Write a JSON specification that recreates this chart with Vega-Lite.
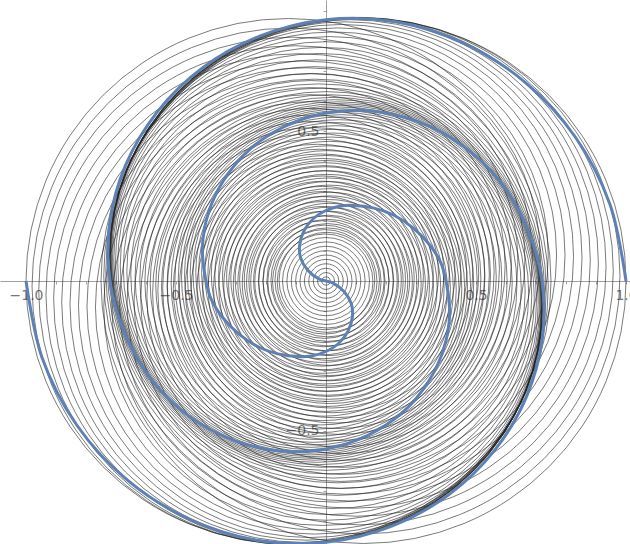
{
  "$schema": "https://vega.github.io/schema/vega-lite/v6.json",
  "width": 630,
  "height": 544,
  "padding": 0,
  "autosize": {"type": "none"},
  "background": "white",
  "config": {"view": {"stroke": null}},
  "datasets": {
    "circles": [
      {"r":0.875,"x":0.125,"y":0},{"r":0.875,"x":-0.125,"y":0},
      {"r":0.8604,"x":0.1195,"y":0.0172},{"r":0.8604,"x":-0.1195,"y":-0.0172},
      {"r":0.8458,"x":0.1118,"y":0.033},{"r":0.8458,"x":-0.1118,"y":-0.033},
      {"r":0.8312,"x":0.1023,"y":0.047},{"r":0.8312,"x":-0.1023,"y":-0.047},
      {"r":0.8166,"x":0.0913,"y":0.059},{"r":0.8166,"x":-0.0913,"y":-0.059},
      {"r":0.802,"x":0.079,"y":0.0689},{"r":0.802,"x":-0.079,"y":-0.0689},
      {"r":0.7874,"x":0.066,"y":0.0766},{"r":0.7874,"x":-0.066,"y":-0.0766},
      {"r":0.7728,"x":0.0523,"y":0.0821},{"r":0.7728,"x":-0.0523,"y":-0.0821},
      {"r":0.7582,"x":0.0385,"y":0.0854},{"r":0.7582,"x":-0.0385,"y":-0.0854},
      {"r":0.7436,"x":0.0249,"y":0.0866},{"r":0.7436,"x":-0.0249,"y":-0.0866},
      {"r":0.729,"x":0.0118,"y":0.0858},{"r":0.729,"x":-0.0118,"y":-0.0858},
      {"r":0.7144,"x":-0.0005,"y":0.0832},{"r":0.7144,"x":0.0005,"y":-0.0832},
      {"r":0.6998,"x":-0.0119,"y":0.0789},{"r":0.6998,"x":0.0119,"y":-0.0789},
      {"r":0.6852,"x":-0.0221,"y":0.0732},{"r":0.6852,"x":0.0221,"y":-0.0732},
      {"r":0.6706,"x":-0.031,"y":0.0664},{"r":0.6706,"x":0.031,"y":-0.0664},
      {"r":0.656,"x":-0.0384,"y":0.0586},{"r":0.656,"x":0.0384,"y":-0.0586},
      {"r":0.6414,"x":-0.0444,"y":0.0503},{"r":0.6414,"x":0.0444,"y":-0.0503},
      {"r":0.6268,"x":-0.0488,"y":0.0414},{"r":0.6268,"x":0.0488,"y":-0.0414},
      {"r":0.6122,"x":-0.0517,"y":0.0325},{"r":0.6122,"x":0.0517,"y":-0.0325},
      {"r":0.5976,"x":-0.0532,"y":0.0236},{"r":0.5976,"x":0.0532,"y":-0.0236},
      {"r":0.583,"x":-0.0533,"y":0.015},{"r":0.583,"x":0.0533,"y":-0.015},
      {"r":0.5684,"x":-0.0522,"y":0.0069},{"r":0.5684,"x":0.0522,"y":-0.0069},
      {"r":0.5538,"x":-0.05,"y":-0.0006},{"r":0.5538,"x":0.05,"y":0.0006},
      {"r":0.5392,"x":-0.0468,"y":-0.0074},{"r":0.5392,"x":0.0468,"y":0.0074},
      {"r":0.5246,"x":-0.0429,"y":-0.0132},{"r":0.5246,"x":0.0429,"y":0.0132},
      {"r":0.51,"x":-0.0383,"y":-0.0182},{"r":0.51,"x":0.0383,"y":0.0182},
      {"r":0.4954,"x":-0.0333,"y":-0.0221},{"r":0.4954,"x":0.0333,"y":0.0221},
      {"r":0.4808,"x":-0.0281,"y":-0.0251},{"r":0.4808,"x":0.0281,"y":0.0251},
      {"r":0.4662,"x":-0.0227,"y":-0.0271},{"r":0.4662,"x":0.0227,"y":0.0271},
      {"r":0.4516,"x":-0.0175,"y":-0.0282},{"r":0.4516,"x":0.0175,"y":0.0282},
      {"r":0.437,"x":-0.0124,"y":-0.0285},{"r":0.437,"x":0.0124,"y":0.0285},
      {"r":0.4224,"x":-0.0077,"y":-0.0281},{"r":0.4224,"x":0.0077,"y":0.0281},
      {"r":0.4078,"x":-0.0034,"y":-0.0269},{"r":0.4078,"x":0.0034,"y":0.0269},
      {"r":0.3932,"x":0.0005,"y":-0.0252},{"r":0.3932,"x":-0.0005,"y":0.0252},
      {"r":0.3786,"x":0.0038,"y":-0.0231},{"r":0.3786,"x":-0.0038,"y":0.0231},
      {"r":0.364,"x":0.0065,"y":-0.0206},{"r":0.364,"x":-0.0065,"y":0.0206},
      {"r":0.3494,"x":0.0086,"y":-0.0179},{"r":0.3494,"x":-0.0086,"y":0.0179},
      {"r":0.3348,"x":0.0102,"y":-0.0152},{"r":0.3348,"x":-0.0102,"y":0.0152},
      {"r":0.3202,"x":0.0112,"y":-0.0124},{"r":0.3202,"x":-0.0112,"y":0.0124},
      {"r":0.3056,"x":0.0117,"y":-0.0097},{"r":0.3056,"x":-0.0117,"y":0.0097},
      {"r":0.291,"x":0.0118,"y":-0.0072},{"r":0.291,"x":-0.0118,"y":0.0072},
      {"r":0.2764,"x":0.0115,"y":-0.0049},{"r":0.2764,"x":-0.0115,"y":0.0049},
      {"r":0.2618,"x":0.0108,"y":-0.0029},{"r":0.2618,"x":-0.0108,"y":0.0029},
      {"r":0.2472,"x":0.0099,"y":-0.0012},{"r":0.2472,"x":-0.0099,"y":0.0012},
      {"r":0.2326,"x":0.0088,"y":0.0002},{"r":0.2326,"x":-0.0088,"y":-0.0002},
      {"r":0.218,"x":0.0076,"y":0.0013},{"r":0.218,"x":-0.0076,"y":-0.0013},
      {"r":0.2034,"x":0.0064,"y":0.0021},{"r":0.2034,"x":-0.0064,"y":-0.0021},
      {"r":0.1888,"x":0.0052,"y":0.0026},{"r":0.1888,"x":-0.0052,"y":-0.0026},
      {"r":0.1742,"x":0.0041,"y":0.0028},{"r":0.1742,"x":-0.0041,"y":-0.0028},
      {"r":0.1596,"x":0.0031,"y":0.0028},{"r":0.1596,"x":-0.0031,"y":-0.0028},
      {"r":0.145,"x":0,"y":0},{"r":0.1304,"x":0,"y":0},{"r":0.1158,"x":0,"y":0},{"r":0.1012,"x":0,"y":0},
      {"r":0.0866,"x":0,"y":0},{"r":0.072,"x":0,"y":0},{"r":0.0574,"x":0,"y":0},{"r":0.0428,"x":0,"y":0},
      {"r":0.0282,"x":0,"y":0},{"r":0.0136,"x":0,"y":0}
    ],
    "spiral": [
      {"t":-39,"x":-1.0,"y":0.0},{"t":-38,"x":-0.947,"y":-0.254},{"t":-37,"x":-0.831,"y":-0.48},{"t":-36,"x":-0.663,"y":-0.663},
      {"t":-35,"x":-0.458,"y":-0.793},{"t":-34,"x":-0.231,"y":-0.864},{"t":-33,"x":0.0,"y":-0.871},{"t":-32,"x":0.219,"y":-0.817},
      {"t":-31,"x":0.411,"y":-0.711},{"t":-30,"x":0.563,"y":-0.563},{"t":-29,"x":0.668,"y":-0.386},{"t":-28,"x":0.721,"y":-0.193},
      {"t":-27,"x":0.72,"y":0.0},{"t":-26,"x":0.669,"y":0.179},{"t":-25,"x":0.578,"y":0.334},{"t":-24,"x":0.453,"y":0.453},
      {"t":-23,"x":0.307,"y":0.531},{"t":-22,"x":0.152,"y":0.567},{"t":-21,"x":0.0,"y":0.56},{"t":-20,"x":-0.138,"y":0.515},
      {"t":-19,"x":-0.254,"y":0.439},{"t":-18,"x":-0.339,"y":0.339},{"t":-17,"x":-0.392,"y":0.227},{"t":-16,"x":-0.412,"y":0.111},
      {"t":-15,"x":-0.4,"y":0.0},{"t":-14,"x":-0.383,"y":-0.06},{"t":-13,"x":-0.346,"y":-0.12},{"t":-12,"x":-0.29,"y":-0.177},
      {"t":-11,"x":-0.225,"y":-0.22},{"t":-10,"x":-0.16,"y":-0.243},{"t":-9,"x":-0.091,"y":-0.252},{"t":-8,"x":-0.045,"y":-0.249},
      {"t":-7,"x":0.0,"y":-0.235},{"t":-6,"x":0.04,"y":-0.21},{"t":-5,"x":0.072,"y":-0.17},{"t":-4,"x":0.088,"y":-0.12},
      {"t":-3,"x":0.084,"y":-0.075},{"t":-2,"x":0.06,"y":-0.035},{"t":-1,"x":0.022,"y":-0.006},
      {"t":0,"x":0.0,"y":0.0},
      {"t":1,"x":-0.022,"y":0.006},{"t":2,"x":-0.06,"y":0.035},{"t":3,"x":-0.084,"y":0.075},{"t":4,"x":-0.088,"y":0.12},
      {"t":5,"x":-0.072,"y":0.17},{"t":6,"x":-0.04,"y":0.21},{"t":7,"x":0.0,"y":0.235},{"t":8,"x":0.045,"y":0.249},
      {"t":9,"x":0.091,"y":0.252},{"t":10,"x":0.16,"y":0.243},{"t":11,"x":0.225,"y":0.22},{"t":12,"x":0.29,"y":0.177},
      {"t":13,"x":0.346,"y":0.12},{"t":14,"x":0.383,"y":0.06},{"t":15,"x":0.4,"y":0.0},{"t":16,"x":0.412,"y":-0.111},
      {"t":17,"x":0.392,"y":-0.227},{"t":18,"x":0.339,"y":-0.339},{"t":19,"x":0.254,"y":-0.439},{"t":20,"x":0.138,"y":-0.515},
      {"t":21,"x":0.0,"y":-0.56},{"t":22,"x":-0.152,"y":-0.567},{"t":23,"x":-0.307,"y":-0.531},{"t":24,"x":-0.453,"y":-0.453},
      {"t":25,"x":-0.578,"y":-0.334},{"t":26,"x":-0.669,"y":-0.179},{"t":27,"x":-0.72,"y":0.0},{"t":28,"x":-0.721,"y":0.193},
      {"t":29,"x":-0.668,"y":0.386},{"t":30,"x":-0.563,"y":0.563},{"t":31,"x":-0.411,"y":0.711},{"t":32,"x":-0.219,"y":0.817},
      {"t":33,"x":0.0,"y":0.871},{"t":34,"x":0.231,"y":0.864},{"t":35,"x":0.458,"y":0.793},{"t":36,"x":0.663,"y":0.663},
      {"t":37,"x":0.831,"y":0.48},{"t":38,"x":0.947,"y":0.254},{"t":39,"x":1.0,"y":0.0}
    ]
  },
  "encoding": {
    "x": {
      "field": "x", "type": "quantitative",
      "scale": {"domain": [-1.0867, 1.0133], "nice": false, "zero": false},
      "axis": {
        "orient": "bottom", "offset": -263, "title": null, "grid": false,
        "values": [-1, -0.9, -0.8, -0.7, -0.6, -0.5, -0.4, -0.3, -0.2, -0.1, 0.1, 0.2, 0.3, 0.4, 0.5, 0.6, 0.7, 0.8, 0.9, 1],
        "labelExpr": "(abs(datum.value) == 0.5 || abs(datum.value) == 1) ? format(datum.value, '.1f') : ''",
        "domainColor": "#a0a0a0", "tickColor": "#a0a0a0", "tickSize": 3,
        "labelColor": "#777777", "labelFont": "DejaVu Sans", "labelFontSize": 14,
        "labelPadding": 4, "labelFlush": false, "labelOverlap": false, "labelBound": false
      }
    },
    "y": {
      "field": "y", "type": "quantitative",
      "scale": {"domain": [-0.8767, 0.9367], "nice": false, "zero": false},
      "axis": {
        "orient": "left", "offset": -326, "title": null, "grid": false,
        "values": [-0.8, -0.7, -0.6, -0.5, -0.4, -0.3, -0.2, -0.1, 0.1, 0.2, 0.3, 0.4, 0.5, 0.6, 0.7, 0.8, 0.9],
        "labelExpr": "(abs(datum.value) == 0.5) ? format(datum.value, '.1f') : ''",
        "domainColor": "#a0a0a0", "tickColor": "#a0a0a0", "tickSize": 3,
        "labelColor": "#777777", "labelFont": "DejaVu Sans", "labelFontSize": 14,
        "labelPadding": 4, "labelFlush": false, "labelOverlap": false, "labelBound": false
      }
    }
  },
  "layer": [
    {
      "data": {"name": "circles"},
      "mark": {"type": "point", "shape": "circle", "filled": false, "stroke": "#222222", "strokeWidth": 0.6, "opacity": 1},
      "encoding": {
        "size": {
          "field": "r", "type": "quantitative",
          "scale": {"type": "pow", "exponent": 2, "domain": [0, 1], "range": [0, 360000]},
          "legend": null
        }
      }
    },
    {
      "data": {"name": "spiral"},
      "mark": {"type": "line", "color": "#5e81b5", "strokeWidth": 3, "interpolate": "catmull-rom"},
      "encoding": {
        "order": {"field": "t", "type": "quantitative"}
      }
    }
  ]
}
